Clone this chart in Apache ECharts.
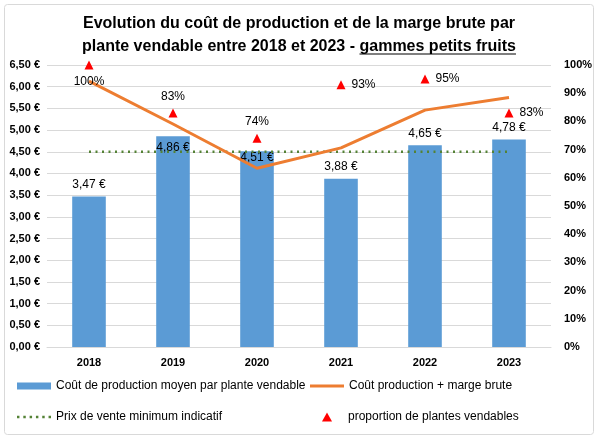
<!DOCTYPE html>
<html><head><meta charset="utf-8">
<script src="https://cdn.jsdelivr.net/npm/echarts@6/dist/echarts.min.js"></script>
<style>html,body{margin:0;padding:0;background:#fff}#c{width:598px;height:439px}</style>
</head><body><div id="c"></div>
<script>
const years = ['2018','2019','2020','2021','2022','2023'];
const coutProduction = [3.47, 4.86, 4.51, 3.88, 4.65, 4.78];
const coutPlusMarge = [6.13, 5.14, 4.12, 4.59, 5.46, 5.75];
const prixMinimum = [4.5, 4.5, 4.5, 4.5, 4.5, 4.5];
const proportionVendable = [100, 83, 74, 93, 95, 83];
const barLabelPos = ['top','insideTop','insideTop','top','top','top'];
const barLabelDist = [6, 6, 0, 6, 6, 6];
const pctLabelPos = ['bottom','top','top','right','right','right'];

const FONT = '"Liberation Sans",Arial,sans-serif';
const eur = v => v.toFixed(2).replace('.', ',') + ' €';

const titleLine1 = 'Evolution du coût de production et de la marge brute par';
const titleLine2a = 'plante vendable entre 2018 et 2023 - ';
const titleLine2b = 'gammes petits fruits';
const titleSize = 16;

const ctx = document.createElement('canvas').getContext('2d');
ctx.font = 'bold ' + titleSize + 'px ' + FONT;
const wAll = ctx.measureText(titleLine2a + titleLine2b).width;
const wB = ctx.measureText(titleLine2b).width;
const ulX2 = 299 + wAll / 2;
const ulX1 = ulX2 - wB;

const legText = { fontSize: 12, color: '#000', fontFamily: FONT };
const dotsIcon = 'path://M0,0h2.4v2.4h-2.4z M6.2,0h2.4v2.4h-2.4z M12.4,0h2.4v2.4h-2.4z M18.6,0h2.4v2.4h-2.4z M24.8,0h2.4v2.4h-2.4z M31,0h2.4v2.4h-2.4z';

const chart = echarts.init(document.getElementById('c'));
chart.setOption({
  animation: false,
  textStyle: { fontFamily: FONT },
  title: {
    text: titleLine1 + '\n' + titleLine2a + titleLine2b,
    left: 'center', top: 7,
    textStyle: { fontFamily: FONT, fontSize: titleSize, fontWeight: 'bold', color: '#000', lineHeight: 23 }
  },
  graphic: [
    { type: 'rect', shape: { x: 4.5, y: 4.5, width: 589, height: 430, r: 3 }, style: { fill: 'none', stroke: '#d9d9d9', lineWidth: 1 }, silent: true },
    { type: 'line', shape: { x1: ulX1, y1: 54, x2: ulX2, y2: 54 }, style: { stroke: '#000', lineWidth: 1.2 }, silent: true }
  ],
  grid: { left: 47, right: 47, top: 65, bottom: 92 },
  legend: [
    { left: 17, top: 380, padding: 0, itemWidth: 34, itemHeight: 7, data: [{ name: 'Coût de production moyen par plante vendable', icon: 'rect' }], textStyle: legText },
    { left: 310, top: 380, padding: 0, itemWidth: 34, itemHeight: 3, data: [{ name: 'Coût production + marge brute', icon: 'rect' }], textStyle: legText },
    { left: 17, top: 411, padding: 0, itemWidth: 34, itemHeight: 3, data: [{ name: 'Prix de vente minimum indicatif', icon: dotsIcon }], textStyle: legText },
    { left: 322, top: 411, padding: 0, itemWidth: 10, itemHeight: 9, data: [{ name: 'proportion de plantes vendables', icon: 'path://M10,0 L20,18 L0,18 Z' }], textStyle: Object.assign({ padding: [0, 0, 0, 11] }, legText) }
  ],
  xAxis: {
    type: 'category', data: years,
    axisLine: { lineStyle: { color: '#d9d9d9' } },
    axisTick: { show: false },
    axisLabel: { color: '#000', fontWeight: 'bold', fontSize: 11, margin: 10 }
  },
  yAxis: [
    {
      type: 'value', min: 0, max: 6.5, interval: 0.5,
      axisLabel: { formatter: eur, color: '#000', fontWeight: 'bold', fontSize: 11, margin: 7 },
      splitLine: { lineStyle: { color: '#d9d9d9' } },
      axisLine: { show: false }, axisTick: { show: false }
    },
    {
      type: 'value', min: 0, max: 100, interval: 10,
      axisLabel: { formatter: '{value}%', color: '#000', fontWeight: 'bold', fontSize: 11, margin: 13 },
      splitLine: { show: false },
      axisLine: { show: false }, axisTick: { show: false }
    }
  ],
  series: [
    {
      name: 'Coût de production moyen par plante vendable', type: 'bar', barWidth: '40%',
      itemStyle: { color: '#5b9bd5' },
      data: coutProduction.map((v, i) => ({ value: v, label: { position: barLabelPos[i], distance: barLabelDist[i] } })),
      label: { show: true, formatter: p => eur(p.value), color: '#000', fontSize: 12 },
      z: 1
    },
    {
      name: 'Coût production + marge brute', type: 'line', data: coutPlusMarge,
      symbol: 'none', lineStyle: { color: '#ed7d31', width: 3 }, itemStyle: { color: '#ed7d31' }, z: 3
    },
    {
      name: 'Prix de vente minimum indicatif', type: 'line', data: prixMinimum,
      symbol: 'none', lineStyle: { color: '#548235', width: 2.5, type: [2, 4.5] }, itemStyle: { color: '#548235' }, z: 2
    },
    {
      name: 'proportion de plantes vendables', type: 'scatter', yAxisIndex: 1,
      symbol: 'triangle', symbolSize: [9, 9],
      itemStyle: { color: '#ff0000', opacity: 1 },
      data: proportionVendable.map((v, i) => ({ value: v, label: { position: pctLabelPos[i] } })),
      label: { show: true, formatter: p => p.value + '%', color: '#000', fontSize: 12, distance: 6 },
      z: 4
    }
  ]
});
</script></body></html>
